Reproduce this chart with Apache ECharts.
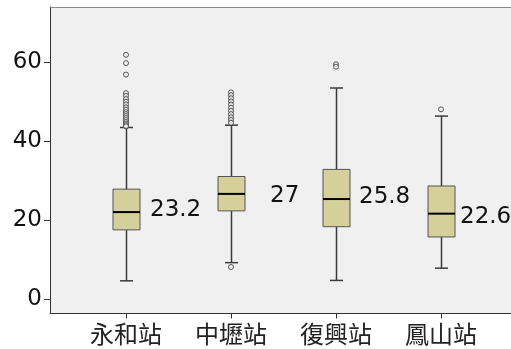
<!DOCTYPE html>
<html>
<head>
<meta charset="utf-8">
<script src="https://cdn.jsdelivr.net/npm/echarts@6/dist/echarts.min.js"></script>
<style>html,body{margin:0;padding:0;background:#fff;}#c{width:511px;height:349px;}</style>
</head>
<body>
<div id="c"></div>
<script>
// ---- data ----
const categories = ['永和站', '中壢站', '復興站', '鳳山站'];
const lowWhisker = [4.6, 9.2, 4.7, 7.8];
const q1 = [17.5, 22.3, 18.3, 15.7];
const median = [22.0, 26.6, 25.3, 21.6];
const q3 = [27.8, 31.0, 32.8, 28.6];
const highWhisker = [43.4, 44.0, 53.4, 46.3];
const outliersYonghe = [61.8, 59.7, 56.8, 52.1, 51.4, 50.6, 49.9, 49.2, 48.5, 47.9, 47.3, 46.8, 46.3, 45.8, 45.3, 44.8, 44.4, 44.0, 43.7];
const outliersZhongli = [52.3, 51.6, 50.8, 50.0, 49.2, 48.4, 47.6, 46.8, 46.0, 45.3, 44.6, 8.1];
const outliersFuxing = [59.4, 58.8];
const outliersFengshan = [48.0];
const meanLabels = ['23.2', '27', '25.8', '22.6'];
const meanLabelY = [22.45, 26.1, 25.9, 20.7];
const yTicks = [0, 20, 40, 60];

// ---- styling ----
const labelDx = [24, 39, 23, 19];
const yMin = -3.67, yMax = 73.9;

const boxData = categories.map((c, i) => [i, lowWhisker[i], q1[i], median[i], q3[i], highWhisker[i]]);
const outlierData = [];
[outliersYonghe, outliersZhongli, outliersFuxing, outliersFengshan].forEach((arr, i) => {
  arr.forEach(v => outlierData.push([i, v]));
});
const labelData = categories.map((c, i) => [i, meanLabelY[i]]);

const chart = echarts.init(document.getElementById('c'), null, {renderer: 'canvas'});
const gridPos = {top: 7, bottom: 35.5};
chart.setOption({
  animation: false,
  backgroundColor: '#ffffff',
  grid: [
    Object.assign({left: 50, width: 470, show: true, backgroundColor: '#F0F0F0', borderWidth: 0}, gridPos),
    Object.assign({left: 73.5, width: 420}, gridPos)
  ],
  xAxis: [
    {gridIndex: 0, type: 'value', min: 0, max: 1, position: 'bottom',
     axisLine: {show: true, onZero: false, lineStyle: {color: '#333', width: 1}},
     axisTick: {show: false}, axisLabel: {show: false}, splitLine: {show: false}},
    {gridIndex: 1, type: 'category', data: categories, boundaryGap: true, position: 'bottom',
     axisLine: {show: false, onZero: false},
     axisTick: {show: true, alignWithLabel: true, length: 5, lineStyle: {color: '#333'}},
     axisLabel: {margin: 8, fontFamily: 'Noto Sans CJK TC', fontSize: 24, color: '#222'},
     splitLine: {show: false}},
    {gridIndex: 0, type: 'value', min: 0, max: 1, position: 'top',
     axisLine: {show: true, onZero: false, lineStyle: {color: '#8a8a8a', width: 1}},
     axisTick: {show: false}, axisLabel: {show: false}, splitLine: {show: false}}
  ],
  yAxis: [
    {gridIndex: 0, type: 'value', min: yMin, max: yMax,
     axisLine: {show: true, onZero: false, lineStyle: {color: '#333', width: 1}},
     axisTick: {show: true, length: 6, customValues: yTicks, lineStyle: {color: '#333'}},
     axisLabel: {customValues: yTicks, margin: 8, fontFamily: 'DejaVu Sans', fontSize: 23, color: '#111'},
     splitLine: {show: false}},
    {gridIndex: 1, type: 'value', min: yMin, max: yMax, show: false, splitLine: {show: false}}
  ],
  series: [
    {
      type: 'custom', xAxisIndex: 1, yAxisIndex: 1, data: boxData,
      renderItem: function (params, api) {
        const x = api.value(0);
        const pLo = api.coord([x, api.value(1)]);
        const pQ1 = api.coord([x, api.value(2)]);
        const pMed = api.coord([x, api.value(3)]);
        const pQ3 = api.coord([x, api.value(4)]);
        const pHi = api.coord([x, api.value(5)]);
        const cx = Math.round(pMed[0]) + 0.5;
        const hw = 13.5, cap = 6.5;
        const wStyle = {stroke: '#3a3a3a', lineWidth: 1.5};
        return {
          type: 'group',
          children: [
            {type: 'line', shape: {x1: cx, y1: pHi[1], x2: cx, y2: pQ3[1]}, style: wStyle},
            {type: 'line', shape: {x1: cx, y1: pQ1[1], x2: cx, y2: pLo[1]}, style: wStyle},
            {type: 'line', shape: {x1: cx - cap, y1: pHi[1], x2: cx + cap, y2: pHi[1]}, style: wStyle},
            {type: 'line', shape: {x1: cx - cap, y1: pLo[1], x2: cx + cap, y2: pLo[1]}, style: wStyle},
            {type: 'rect', shape: {x: cx - hw, y: pQ3[1], width: hw * 2, height: pQ1[1] - pQ3[1]},
             style: {fill: '#D4CF9B', stroke: '#555', lineWidth: 1}},
            {type: 'line', shape: {x1: cx - hw, y1: pMed[1], x2: cx + hw, y2: pMed[1]},
             style: {stroke: '#000', lineWidth: 2}}
          ]
        };
      }
    },
    {
      type: 'scatter', xAxisIndex: 1, yAxisIndex: 1, data: outlierData,
      symbol: 'circle', symbolSize: 5,
      itemStyle: {color: '#F0F0F0', borderColor: '#333', borderWidth: 1}
    },
    {
      type: 'custom', xAxisIndex: 1, yAxisIndex: 1, data: labelData,
      renderItem: function (params, api) {
        const i = params.dataIndex;
        const p = api.coord([api.value(0), api.value(1)]);
        return {
          type: 'text', x: p[0] + labelDx[i], y: p[1],
          style: {text: meanLabels[i], fontFamily: 'DejaVu Sans', fontSize: 23, fill: '#111',
                  verticalAlign: 'middle', align: 'left'}
        };
      }
    }
  ]
});
</script>
</body>
</html>
